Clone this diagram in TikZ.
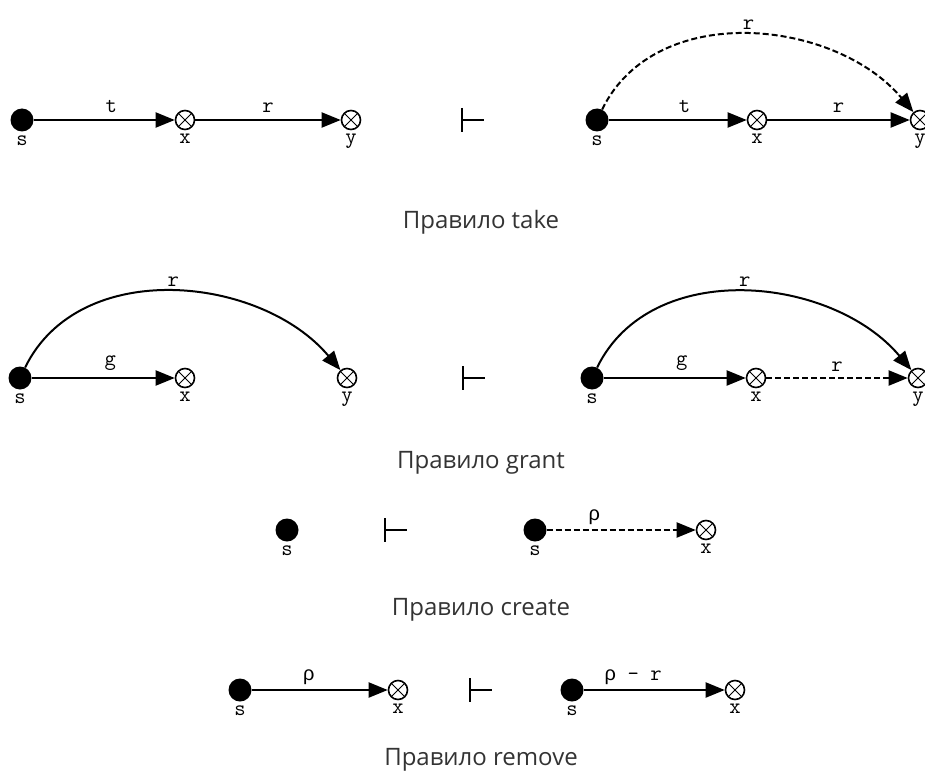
\documentclass[tikz,border=0pt]{standalone}
\usepackage{fontspec}
\setmainfont{Open Sans}
\newfontfamily\rhofont{Liberation Mono}
\usetikzlibrary{arrows.meta,positioning}

\tikzset{
  subj/.style={circle, fill=black, minimum size=23pt, inner sep=0pt},
  obj/.style={circle, draw, line width=1.6pt, fill=white, minimum size=19pt, inner sep=0pt,
    path picture={\draw[line width=1pt]
      (path picture bounding box.north west) -- (path picture bounding box.south east)
      (path picture bounding box.north east) -- (path picture bounding box.south west);}},
  edge/.style={line width=2pt, -{Triangle[length=19pt,width=15pt]}},
  newedge/.style={edge, dash pattern=on 6pt off 3pt},
  lbl/.style={font=\ttfamily\fontsize{22}{22}\selectfont, inner sep=1pt},
  rulename/.style={font=\fontsize{24}{24}\selectfont, text=black!80},
  every label/.style={lbl},
  label distance=3pt
}

% turnstile sign
\newcommand\yields[1]{\draw[line width=2.2pt] ([yshift=12pt]#1) -- ([yshift=-12pt]#1) (#1) -- ++(22pt,0);}
\newcommand\rh{{\rhofont\fontsize{20}{20}\selectfont ρ}}

\begin{document}
\begin{tikzpicture}[x=1pt,y=1pt]
\useasboundingbox (0,0) rectangle (925,-778);

% take
\node[subj, label=below:s] (s1) at (22,-120) {};
\node[obj, label=below:x] (x1) at (185,-120) {};
\node[obj, label=below:y] (y1) at (351,-120) {};
\draw[edge] (s1) -- node[lbl, above=5pt, pos=0.55] {t} (x1);
\draw[edge] (x1) -- node[lbl, above=5pt] {r} (y1);
\coordinate (t1) at (462,-120);
\yields{t1}
\node[subj, label=below:s] (s2) at (597,-120) {};
\node[obj, label=below:x] (x2) at (757,-120) {};
\node[obj, label=below:y] (y2) at (920,-120) {};
\draw[edge] (s2) -- node[lbl, above=5pt, pos=0.55] {t} (x2);
\draw[edge] (x2) -- node[lbl, above=5pt] {r} (y2);
\draw[newedge] (s2) to[out=64, in=130, looseness=1.0] node[lbl, above=3pt] {r} (y2);
\node[rulename] (take) at (481,-222) {Правило take};

% grant
\node[subj, label=below:s] (s3) at (20,-378) {};
\node[obj, label=below:x] (x3) at (185,-378) {};
\node[obj, label=below:y] (y3) at (347,-378) {};
\draw[edge] (s3) -- node[lbl, above=5pt, pos=0.55] {g} (x3);
\draw[edge] (s3) to[out=64, in=130, looseness=1.0] node[lbl, above=3pt] {r} (y3);
\coordinate (t2) at (463,-378);
\yields{t2}
\node[subj, label=below:s] (s4) at (592,-378) {};
\node[obj, label=below:x] (x4) at (756,-378) {};
\node[obj, label=below:y] (y4) at (918,-378) {};
\draw[edge] (s4) -- node[lbl, above=5pt, pos=0.55] {g} (x4);
\draw[newedge] (x4) -- node[lbl, above=5pt] {r} (y4);
\draw[edge] (s4) to[out=64, in=130, looseness=1.0] node[lbl, above=3pt] {r} (y4);
\node[rulename] (grant) at (481,-463) {Правило grant};

% create
\node[subj, label=below:s] (s5) at (287,-530) {};
\coordinate (t3) at (385,-530);
\yields{t3}
\node[subj, label=below:s] (s6) at (535,-530) {};
\node[obj, label=below:x] (x6) at (706,-530) {};
\draw[newedge] (s6) -- node[lbl, above=3pt, pos=0.32] {\rh} (x6);
\node[rulename] (create) at (481,-610) {Правило create};

% remove
\node[subj, label=below:s] (s7) at (240,-690) {};
\node[obj, label=below:x] (x7) at (398,-690) {};
\draw[edge] (s7) -- node[lbl, above=3pt, pos=0.42] {\rh} (x7);
\coordinate (t4) at (470,-690);
\yields{t4}
\node[subj, label=below:s] (s8) at (572,-690) {};
\node[obj, label=below:x] (x8) at (735,-690) {};
\draw[edge] (s8) -- node[lbl, above=3pt, pos=0.35] {\rh{} - r} (x8);
\node[rulename] (remove) at (481,-760) {Правило remove};
\end{tikzpicture}
\end{document}
